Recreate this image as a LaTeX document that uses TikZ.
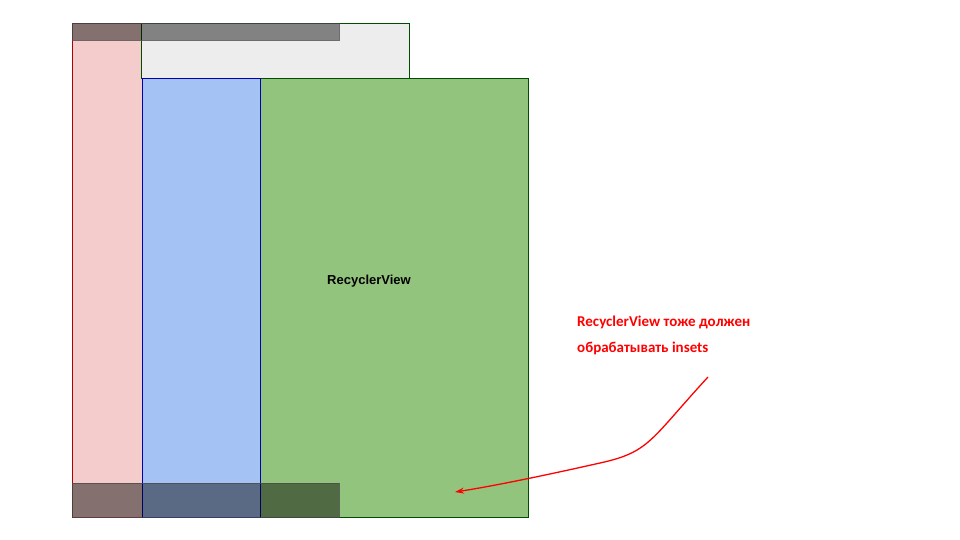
\documentclass[tikz,border=0pt]{standalone}
\usetikzlibrary{arrows.meta}
\usepackage{fontspec}
\setmainfont{Liberation Sans}
\newfontfamily\carl{Carlito}
\begin{document}
\begin{tikzpicture}[x=1pt,y=-1pt,
  box/.style={draw=#1, line width=0.8pt},
  shade/.style={fill=black, fill opacity=0.45, draw=black!70, draw opacity=0.8, line width=0.8pt}]
\useasboundingbox (0,0) rectangle (960,540);
\fill[white] (0,0) rectangle (960,540);
\path[box=red!70!black, fill={rgb,255:red,244;green,204;blue,204}] (72,23) rectangle (142,517);
\path[box=green!30!black, fill=black!7] (141,23) rectangle (409,78);
\path[box=green!30!black, fill={rgb,255:red,147;green,196;blue,125}] (260,78) rectangle (528,517);
\path[fill={rgb,255:red,164;green,194;blue,244}, draw=blue!70!black, line width=0.8pt] (142,78) rectangle (260,517);
\path[shade] (72,23) rectangle (339,40);
\path[shade] (72,483) rectangle (339,517);
\node[font=\bfseries\fontsize{13}{15}\selectfont] (rv) at (369,281) {RecyclerView};
\node[font=\carl\bfseries\fontsize{15}{26}\selectfont, text=red, align=left, anchor=north west, inner sep=0pt] (lbl) at (577,316) {RecyclerView тоже должен\\обрабатывать insets};
\coordinate (tgt) at (455,492);
\coordinate (src) at (708,377);
\draw[red, line width=1.3pt, -{Stealth[length=9pt,width=6pt]}] (src) .. controls (650,440) and (650,452) .. (600,463) .. controls (560,472) and (500,485) .. (tgt);
\end{tikzpicture}
\end{document}
